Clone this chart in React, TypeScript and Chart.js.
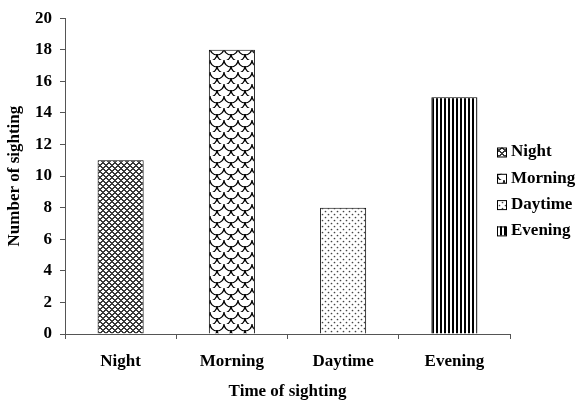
import React, { useEffect, useRef } from "react";
import { Chart, registerables } from "chart.js";

Chart.register(...registerables);

const categories = ["Night", "Morning", "Daytime", "Evening"];
const sightings = [11, 18, 8, 15];
const yMin = 0;
const yMax = 20;
const yStep = 2;
const xTitle = "Time of sighting";
const yTitle = "Number of sighting";

function makePattern(w: number, h: number, draw: (g: CanvasRenderingContext2D) => void) {
  const c = document.createElement("canvas");
  c.width = w;
  c.height = h;
  const g = c.getContext("2d")!;
  g.fillStyle = "#ffffff";
  g.fillRect(0, 0, w, h);
  draw(g);
  return g.createPattern(c, "repeat") as CanvasPattern;
}

function buildPatterns() {
  const night = makePattern(6, 6, (g) => {
    g.fillStyle = "#3a3a3a";
    for (let x = 0; x < 6; x++)
      for (let y = 0; y < 6; y++) {
        if ((x + y) % 6 < 2 || (x - y + 6) % 6 < 2) g.fillRect(x, y, 1, 1);
      }
  });
  const morning = makePattern(14, 12, (g) => {
    g.strokeStyle = "#000";
    g.lineWidth = 1.2;
    g.beginPath();
    g.arc(7, 0, 7, 0, Math.PI);
    g.stroke();
    g.beginPath();
    g.arc(0, 6, 7, 0, Math.PI);
    g.stroke();
    g.beginPath();
    g.arc(14, 6, 7, 0, Math.PI);
    g.stroke();
    g.beginPath();
    g.arc(7, 12, 7, Math.PI, 2 * Math.PI, true);
    g.stroke();
  });
  const daytime = makePattern(6, 6, (g) => {
    g.fillStyle = "#444";
    g.beginPath();
    g.arc(1.5, 1.5, 0.85, 0, 2 * Math.PI);
    g.fill();
    g.beginPath();
    g.arc(4.5, 4.5, 0.85, 0, 2 * Math.PI);
    g.fill();
  });
  const evening = makePattern(4, 4, (g) => {
    g.fillStyle = "#000";
    g.fillRect(0, 0, 2, 4);
  });
  return [night, morning, daytime, evening];
}

export default function App() {
  const ref = useRef<HTMLCanvasElement>(null);

  useEffect(() => {
    document.body.style.margin = "0";
    const canvas = ref.current!;
    const patterns = buildPatterns();
    const font = "'Liberation Serif', 'Times New Roman', serif";

    const legendPlugin = {
      id: "customLegend",
      afterDraw(chart: any) {
        const ctx = chart.ctx as CanvasRenderingContext2D;
        ctx.save();
        const x0 = 497;
        const y0 = 152;
        const gap = 26.3;
        categories.forEach((label, i) => {
          const cy = y0 + i * gap;
          ctx.fillStyle = patterns[i];
          ctx.fillRect(x0, cy - 4.5, 9, 9);
          ctx.strokeStyle = "#000";
          ctx.lineWidth = 1;
          ctx.strokeRect(x0 + 0.5, cy - 4.5 + 0.5, 9, 9);
          ctx.fillStyle = "#000";
          ctx.font = `bold 17px ${font}`;
          ctx.textAlign = "left";
          ctx.textBaseline = "middle";
          ctx.fillText(label, x0 + 14, cy);
        });
        ctx.restore();
      },
    };

    const chart = new Chart(canvas, {
      type: "bar",
      data: {
        labels: categories,
        datasets: [
          {
            label: yTitle,
            data: sightings,
            backgroundColor: patterns,
            borderColor: "#000",
            borderWidth: 1,
            barPercentage: 0.414,
            categoryPercentage: 1,
          },
        ],
      },
      options: {
        responsive: false,
        animation: false,
        layout: { padding: { top: 16, right: 67, left: 0, bottom: 0 } },
        plugins: {
          legend: { display: false },
          tooltip: { enabled: false },
        },
        scales: {
          x: {
            grid: {
              offset: true,
              drawOnChartArea: false,
              drawTicks: true,
              tickLength: 5,
              color: "#555",
            },
            border: { color: "#555" },
            ticks: {
              color: "#000",
              font: { family: font, size: 17, weight: "bold" },
              padding: 12,
            },
            title: {
              display: true,
              text: xTitle,
              color: "#000",
              font: { family: font, size: 17, weight: "bold", lineHeight: 1.1 },
              padding: { top: 0, bottom: 0 },
            },
            afterFit: (s: any) => {
              s.height = 67;
            },
          },
          y: {
            min: yMin,
            max: yMax,
            grid: {
              drawOnChartArea: false,
              drawTicks: true,
              tickLength: 5,
              color: "#555",
            },
            border: { color: "#555" },
            ticks: {
              stepSize: yStep,
              color: "#000",
              font: { family: font, size: 17, weight: "bold" },
              padding: 8,
            },
            title: {
              display: true,
              text: yTitle,
              color: "#000",
              font: { family: font, size: 17, weight: "bold", lineHeight: 1.1 },
              padding: { top: 5, bottom: 0 },
            },
            afterFit: (s: any) => {
              s.width = 65;
            },
          },
        },
      },
      plugins: [legendPlugin],
    });
    return () => chart.destroy();
  }, []);

  return <canvas ref={ref} width={577} height={401} style={{ display: "block" }} />;
}
